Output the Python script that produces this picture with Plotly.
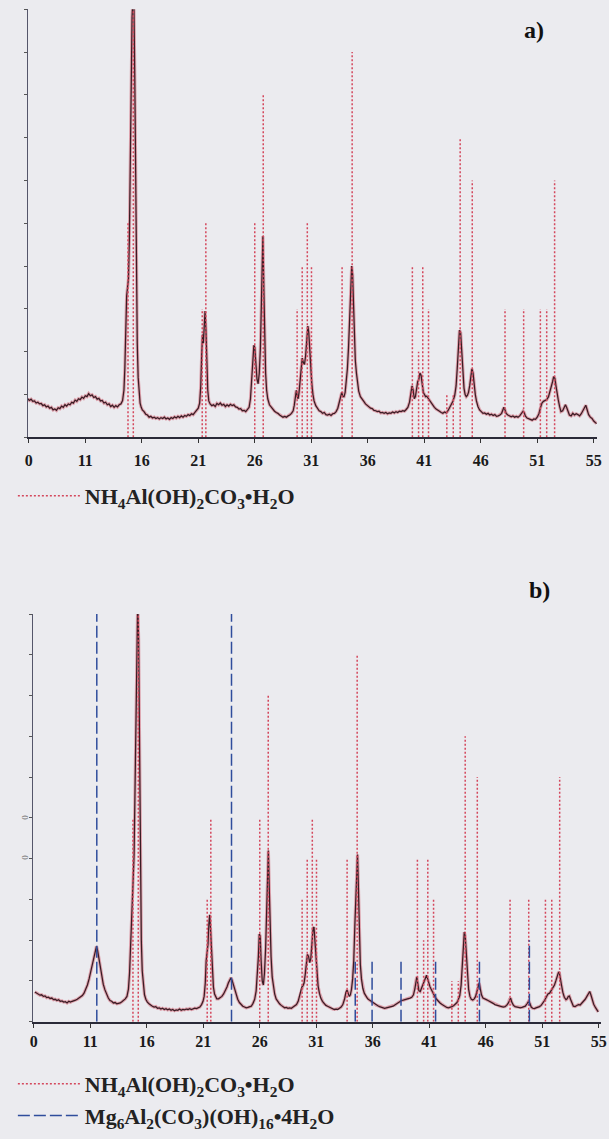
import plotly.graph_objects as go

# ---------------- data ----------------
tick_vals = [6, 11, 16, 21, 26, 31, 36, 41, 46, 51, 56]
tick_text = ["0", "11", "16", "21", "26", "31", "36", "41", "46", "51", "55"]

# reference pattern NH4Al(OH)2CO3.H2O (position, relative height)
nh4_pos = [14.78, 15.25, 21.35, 21.67, 26.0, 26.75, 29.75, 30.2, 30.65, 31.02,
           33.73, 34.62, 39.95, 40.5, 40.87, 41.38, 43.0, 43.57, 44.18, 45.25,
           48.15, 49.8, 51.28, 51.84, 52.54]
nh4_int = [5, 10, 3, 5, 5, 8, 3, 4, 5, 4,
           4, 9, 4, 2, 4, 3, 1, 1, 7, 6,
           3, 3, 3, 3, 6]

# reference pattern Mg6Al2(CO3)(OH)16.4H2O
ht_pos = [11.58, 23.5, 34.45, 35.94, 38.5, 41.56, 45.44, 49.86]
ht_int = [10, 10, 1.5, 1.5, 1.5, 1.5, 1.5, 2]

# measured pattern, sample a
a_x = [5.9, 6.05, 6.2, 6.35, 6.5, 6.65, 6.8, 6.95, 7.1, 7.25, 7.4, 7.55, 7.7, 7.85, 8.0, 8.15, 8.3, 8.45, 8.6, 8.75,
       8.9, 9.05, 9.2, 9.35, 9.5, 9.65, 9.8, 9.95, 10.1, 10.25, 10.4, 10.55, 10.7, 10.85, 11.0, 11.15, 11.3, 11.45, 11.6, 11.75,
       11.9, 12.05, 12.2, 12.35, 12.5, 12.65, 12.8, 12.95, 13.1, 13.25, 13.4, 13.55, 13.7, 13.85, 14.0, 14.15, 14.3, 14.42, 14.5, 14.58,
       14.66, 14.74, 14.82, 14.9, 14.98, 15.06, 15.14, 15.22, 15.3, 15.38, 15.45, 15.52, 15.6, 15.68, 15.76, 15.85, 15.95, 16.05, 16.2, 16.35,
       16.5, 16.65, 16.8, 16.95, 17.1, 17.25, 17.4, 17.55, 17.7, 17.85, 18.0, 18.15, 18.3, 18.45, 18.6, 18.75, 18.9, 19.05, 19.2, 19.35,
       19.5, 19.65, 19.8, 19.95, 20.1, 20.25, 20.4, 20.55, 20.7, 20.85, 21.0, 21.12, 21.22, 21.3, 21.38, 21.45, 21.52, 21.6, 21.68, 21.76,
       21.84, 21.93, 22.05, 22.2, 22.35, 22.5, 22.65, 22.8, 22.95, 23.1, 23.25, 23.4, 23.55, 23.7, 23.85, 24.0, 24.15, 24.3, 24.45, 24.6,
       24.75, 24.9, 25.05, 25.2, 25.35, 25.5, 25.62, 25.72, 25.82, 25.92, 26.0, 26.1, 26.2, 26.3, 26.4, 26.5, 26.58, 26.65, 26.72, 26.8,
       26.88, 26.96, 27.05, 27.15, 27.3, 27.45, 27.6, 27.75, 27.9, 28.05, 28.2, 28.35, 28.5, 28.65, 28.8, 28.95, 29.1, 29.25, 29.4, 29.5,
       29.6, 29.68, 29.76, 29.84, 29.92, 30.0, 30.1, 30.2, 30.3, 30.4, 30.5, 30.6, 30.7, 30.78, 30.86, 30.95, 31.05, 31.15, 31.25, 31.4,
       31.55, 31.7, 31.85, 32.0, 32.15, 32.3, 32.45, 32.6, 32.75, 32.9, 33.05, 33.2, 33.35, 33.5, 33.62, 33.7, 33.8, 33.9, 34.0, 34.1,
       34.2, 34.3, 34.4, 34.5, 34.58, 34.66, 34.74, 34.82, 34.9, 35.0, 35.1, 35.2, 35.35, 35.5, 35.65, 35.8, 35.95, 36.1, 36.25, 36.4,
       36.55, 36.7, 36.85, 37.0, 37.15, 37.3, 37.45, 37.6, 37.75, 37.9, 38.05, 38.2, 38.35, 38.5, 38.65, 38.8, 38.95, 39.1, 39.25, 39.4,
       39.55, 39.7, 39.82, 39.92, 40.02, 40.12, 40.22, 40.32, 40.42, 40.52, 40.62, 40.72, 40.82, 40.92, 41.02, 41.12, 41.22, 41.32, 41.42, 41.52,
       41.62, 41.75, 41.9, 42.05, 42.2, 42.35, 42.5, 42.65, 42.8, 42.95, 43.1, 43.25, 43.4, 43.55, 43.7, 43.82, 43.92, 44.02, 44.12, 44.22,
       44.32, 44.42, 44.52, 44.62, 44.72, 44.82, 44.92, 45.02, 45.12, 45.22, 45.32, 45.42, 45.52, 45.62, 45.75, 45.9, 46.05, 46.2, 46.35, 46.5,
       46.65, 46.8, 46.95, 47.1, 47.25, 47.4, 47.55, 47.7, 47.85, 47.95, 48.05, 48.15, 48.25, 48.4, 48.55, 48.7, 48.85, 49.0, 49.15, 49.3,
       49.45, 49.6, 49.75, 49.85, 49.95, 50.1, 50.25, 50.4, 50.55, 50.7, 50.85, 51.0, 51.15, 51.3, 51.42, 51.55, 51.7, 51.85, 52.0, 52.12,
       52.24, 52.36, 52.46, 52.56, 52.66, 52.76, 52.86, 52.98, 53.1, 53.25, 53.4, 53.5, 53.6, 53.72, 53.85, 54.0, 54.15, 54.3, 54.45, 54.6,
       54.75, 54.9, 55.05, 55.2, 55.3, 55.4, 55.55, 55.7, 55.85, 56.0, 56.15, 56.25]
a_y = [0.90, 0.86, 0.89, 0.84, 0.85, 0.80, 0.82, 0.78, 0.79, 0.74, 0.76, 0.71, 0.73, 0.68, 0.70, 0.64, 0.66, 0.63, 0.69, 0.67,
       0.73, 0.70, 0.76, 0.73, 0.78, 0.76, 0.82, 0.80, 0.87, 0.84, 0.90, 0.88, 0.94, 0.91, 0.97, 0.95, 1.02, 0.97, 0.99, 0.93,
       0.95, 0.89, 0.91, 0.85, 0.86, 0.80, 0.82, 0.76, 0.78, 0.72, 0.75, 0.70, 0.74, 0.71, 0.76, 0.78, 0.86, 1.1, 1.6, 2.6,
       3.3, 3.5, 3.7, 4.6, 6.5, 8.6, 9.8, 10.3, 10.2, 8.4, 5.8, 3.6, 2.2, 1.4, 1.0, 0.8, 0.7, 0.64, 0.6, 0.54,
       0.52, 0.47, 0.49, 0.45, 0.47, 0.44, 0.46, 0.43, 0.46, 0.44, 0.47, 0.43, 0.45, 0.42, 0.46, 0.44, 0.48, 0.45, 0.49, 0.46,
       0.50, 0.47, 0.51, 0.49, 0.53, 0.51, 0.55, 0.53, 0.58, 0.62, 0.68, 0.8, 1.2, 1.9, 2.4, 2.2, 2.6, 2.95, 2.5, 1.6,
       1.1, 0.85, 0.78, 0.74, 0.76, 0.72, 0.79, 0.76, 0.80, 0.75, 0.77, 0.72, 0.76, 0.73, 0.77, 0.74, 0.76, 0.71, 0.70, 0.66,
       0.67, 0.62, 0.63, 0.60, 0.64, 0.70, 0.9, 1.3, 1.8, 2.15, 2.1, 1.7, 1.35, 1.25, 1.5, 2.1, 3.3, 4.5, 4.7, 3.5,
       2.2, 1.5, 1.1, 0.9, 0.76, 0.7, 0.64, 0.61, 0.58, 0.56, 0.52, 0.50, 0.47, 0.49, 0.47, 0.50, 0.52, 0.56, 0.62, 0.75,
       1.0, 1.1, 0.95, 0.9, 1.05, 1.3, 1.6, 1.85, 1.75, 1.7, 1.9, 2.4, 2.6, 2.45, 2.0, 1.6, 1.25, 1.0, 0.85, 0.74,
       0.68, 0.62, 0.60, 0.56, 0.58, 0.53, 0.52, 0.54, 0.51, 0.55, 0.56, 0.60, 0.68, 0.85, 1.0, 1.05, 0.95, 0.95, 1.05, 1.3,
       1.6, 2.1, 2.8, 3.5, 4.0, 3.8, 3.0, 2.3, 1.8, 1.5, 1.25, 1.08, 0.95, 0.88, 0.84, 0.78, 0.74, 0.72, 0.68, 0.67,
       0.63, 0.62, 0.60, 0.61, 0.57, 0.58, 0.56, 0.58, 0.55, 0.57, 0.56, 0.59, 0.57, 0.60, 0.58, 0.61, 0.60, 0.62, 0.61, 0.65,
       0.70, 0.82, 1.05, 1.2, 1.1, 0.9, 0.95, 1.15, 1.3, 1.35, 1.5, 1.45, 1.2, 1.05, 1.0, 0.95, 0.96, 0.92, 0.9, 0.86,
       0.8, 0.74, 0.70, 0.66, 0.64, 0.61, 0.58, 0.56, 0.59, 0.57, 0.62, 0.70, 0.76, 0.85, 0.98, 1.2, 1.6, 2.1, 2.5, 2.45,
       2.0, 1.5, 1.15, 1.0, 0.95, 0.98, 1.05, 1.2, 1.45, 1.6, 1.5, 1.2, 1.0, 0.85, 0.72, 0.64, 0.6, 0.56, 0.57, 0.54,
       0.56, 0.52, 0.54, 0.51, 0.53, 0.49, 0.50, 0.52, 0.56, 0.64, 0.7, 0.64, 0.56, 0.52, 0.50, 0.48, 0.50, 0.47, 0.49, 0.47,
       0.50, 0.55, 0.61, 0.58, 0.50, 0.45, 0.43, 0.41, 0.40, 0.43, 0.42, 0.47, 0.55, 0.70, 0.8, 0.84, 0.86, 0.88, 0.95, 1.05,
       1.15, 1.3, 1.42, 1.38, 1.2, 1.0, 0.88, 0.72, 0.6, 0.62, 0.72, 0.76, 0.7, 0.6, 0.52, 0.50, 0.56, 0.52, 0.55, 0.53,
       0.50, 0.55, 0.62, 0.72, 0.75, 0.66, 0.53, 0.47, 0.44, 0.38, 0.34, 0.32]

# measured pattern, sample b
b_x = [6.1, 6.25, 6.4, 6.55, 6.7, 6.85, 7.0, 7.15, 7.3, 7.45, 7.6, 7.75, 7.9, 8.05, 8.2, 8.35, 8.5, 8.65, 8.8, 8.95,
       9.1, 9.25, 9.4, 9.55, 9.7, 9.85, 10.0, 10.15, 10.3, 10.45, 10.6, 10.75, 10.9, 11.05, 11.2, 11.35, 11.47, 11.55, 11.65, 11.78,
       11.9, 12.02, 12.15, 12.3, 12.45, 12.6, 12.75, 12.9, 13.05, 13.2, 13.35, 13.5, 13.65, 13.8, 13.95, 14.1, 14.25, 14.38, 14.48, 14.56,
       14.64, 14.72, 14.8, 14.88, 14.96, 15.04, 15.12, 15.2, 15.28, 15.36, 15.44, 15.52, 15.6, 15.7, 15.8, 15.92, 16.05, 16.2, 16.35, 16.5,
       16.65, 16.8, 16.95, 17.1, 17.25, 17.4, 17.55, 17.7, 17.85, 18.0, 18.15, 18.3, 18.45, 18.6, 18.75, 18.9, 19.05, 19.2, 19.35, 19.5,
       19.65, 19.8, 19.95, 20.1, 20.25, 20.4, 20.55, 20.7, 20.85, 20.98, 21.08, 21.18, 21.26, 21.34, 21.42, 21.5, 21.57, 21.64, 21.72, 21.8,
       21.9, 22.0, 22.1, 22.2, 22.35, 22.5, 22.65, 22.8, 22.95, 23.1, 23.22, 23.35, 23.45, 23.55, 23.65, 23.78, 23.9, 24.05, 24.2, 24.35,
       24.5, 24.65, 24.8, 24.95, 25.1, 25.25, 25.4, 25.55, 25.68, 25.78, 25.88, 25.96, 26.04, 26.12, 26.22, 26.32, 26.42, 26.52, 26.6, 26.68,
       26.76, 26.84, 26.92, 27.0, 27.1, 27.2, 27.32, 27.45, 27.6, 27.75, 27.9, 28.05, 28.2, 28.35, 28.5, 28.65, 28.8, 28.95, 29.1, 29.25,
       29.4, 29.52, 29.62, 29.72, 29.82, 29.92, 30.02, 30.12, 30.22, 30.32, 30.42, 30.52, 30.62, 30.72, 30.8, 30.88, 30.96, 31.06, 31.16, 31.28,
       31.4, 31.55, 31.7, 31.85, 32.0, 32.15, 32.3, 32.45, 32.6, 32.75, 32.9, 33.05, 33.2, 33.35, 33.5, 33.62, 33.72, 33.82, 33.92, 34.02,
       34.12, 34.22, 34.32, 34.42, 34.5, 34.58, 34.65, 34.72, 34.8, 34.9, 35.0, 35.12, 35.25, 35.4, 35.55, 35.7, 35.85, 36.0, 36.15, 36.3,
       36.45, 36.6, 36.75, 36.9, 37.05, 37.2, 37.35, 37.5, 37.65, 37.8, 37.95, 38.1, 38.25, 38.4, 38.55, 38.7, 38.85, 39.0, 39.15, 39.3,
       39.45, 39.6, 39.72, 39.82, 39.9, 39.98, 40.08, 40.2, 40.32, 40.44, 40.56, 40.66, 40.76, 40.86, 40.96, 41.06, 41.16, 41.28, 41.4, 41.52,
       41.65, 41.8, 41.95, 42.1, 42.25, 42.4, 42.55, 42.7, 42.85, 43.0, 43.15, 43.3, 43.45, 43.58, 43.7, 43.82, 43.92, 44.02, 44.1, 44.18,
       44.28, 44.38, 44.48, 44.6, 44.72, 44.85, 44.98, 45.1, 45.22, 45.32, 45.42, 45.52, 45.62, 45.75, 45.9, 46.05, 46.2, 46.35, 46.5, 46.65,
       46.8, 46.95, 47.1, 47.25, 47.4, 47.55, 47.7, 47.85, 48.0, 48.1, 48.2, 48.3, 48.45, 48.6, 48.75, 48.9, 49.05, 49.2, 49.35, 49.5,
       49.65, 49.78, 49.9, 50.02, 50.15, 50.3, 50.45, 50.6, 50.75, 50.9, 51.05, 51.2, 51.35, 51.5, 51.65, 51.8, 51.95, 52.08, 52.2, 52.32,
       52.42, 52.5, 52.6, 52.7, 52.82, 52.95, 53.1, 53.2, 53.3, 53.4, 53.5, 53.62, 53.75, 53.9, 54.05, 54.2, 54.35, 54.5, 54.65, 54.8,
       54.95, 55.1, 55.2, 55.3, 55.42, 55.55, 55.7, 55.85, 55.95]
b_y = [0.73, 0.70, 0.68, 0.65, 0.66, 0.62, 0.63, 0.59, 0.60, 0.57, 0.58, 0.54, 0.55, 0.52, 0.54, 0.50, 0.51, 0.48, 0.49, 0.46,
       0.50, 0.48, 0.50, 0.51, 0.53, 0.55, 0.58, 0.60, 0.64, 0.70, 0.78, 0.9, 1.05, 1.25, 1.45, 1.65, 1.82, 1.85, 1.75, 1.55,
       1.3, 1.1, 0.92, 0.78, 0.66, 0.58, 0.52, 0.50, 0.46, 0.47, 0.44, 0.45, 0.46, 0.49, 0.52, 0.56, 0.62, 0.8, 1.2, 1.9,
       2.6, 3.2, 3.5, 4.1, 5.6, 7.8, 9.6, 10.3, 9.4, 6.4, 3.6, 2.0, 1.25, 0.86, 0.66, 0.55, 0.48, 0.44, 0.40, 0.38,
       0.36, 0.37, 0.33, 0.34, 0.31, 0.33, 0.30, 0.32, 0.29, 0.31, 0.28, 0.30, 0.27, 0.29, 0.28, 0.31, 0.28, 0.30, 0.29, 0.31,
       0.30, 0.32, 0.30, 0.31, 0.33, 0.32, 0.35, 0.36, 0.42, 0.5, 0.62, 0.95, 1.5, 1.75, 1.9, 2.4, 2.62, 2.3, 1.8, 1.2,
       0.85, 0.68, 0.6, 0.56, 0.56, 0.59, 0.62, 0.68, 0.76, 0.85, 0.95, 1.05, 1.08, 1.02, 0.92, 0.78, 0.66, 0.55, 0.47, 0.42,
       0.38, 0.36, 0.34, 0.35, 0.36, 0.38, 0.45, 0.55, 0.75, 1.1, 1.6, 2.15, 2.1, 1.5, 1.0, 0.9, 1.2, 1.8, 2.8, 3.8,
       4.2, 3.3, 2.3, 1.6, 1.1, 0.86, 0.68, 0.56, 0.49, 0.44, 0.40, 0.37, 0.34, 0.35, 0.33, 0.34, 0.33, 0.36, 0.38, 0.42,
       0.5, 0.62, 0.72, 0.85, 0.88, 0.95, 1.15, 1.4, 1.65, 1.6, 1.45, 1.55, 1.95, 2.3, 2.32, 2.0, 1.6, 1.15, 0.88, 0.7,
       0.58, 0.5, 0.44, 0.40, 0.38, 0.36, 0.33, 0.31, 0.30, 0.31, 0.30, 0.33, 0.36, 0.42, 0.55, 0.72, 0.78, 0.7, 0.62, 0.66,
       0.8, 1.05, 1.5, 2.4, 3.2, 4.0, 4.1, 3.4, 2.2, 1.4, 1.05, 0.82, 0.7, 0.62, 0.56, 0.53, 0.50, 0.46, 0.44, 0.41,
       0.39, 0.37, 0.36, 0.34, 0.33, 0.34, 0.35, 0.36, 0.37, 0.38, 0.41, 0.44, 0.47, 0.50, 0.52, 0.53, 0.54, 0.55, 0.56, 0.58,
       0.60, 0.66, 0.8, 1.0, 1.1, 0.95, 0.76, 0.74, 0.82, 0.9, 0.98, 1.08, 1.14, 1.05, 0.92, 0.86, 0.8, 0.72, 0.66, 0.6,
       0.55, 0.5, 0.46, 0.43, 0.40, 0.37, 0.35, 0.34, 0.35, 0.37, 0.39, 0.42, 0.47, 0.55, 0.64, 0.9, 1.35, 1.9, 2.2, 2.1,
       1.55, 1.1, 0.8, 0.62, 0.55, 0.53, 0.56, 0.62, 0.75, 0.88, 0.95, 0.8, 0.66, 0.58, 0.55, 0.54, 0.52, 0.50, 0.47, 0.45,
       0.42, 0.41, 0.40, 0.38, 0.37, 0.36, 0.37, 0.40, 0.46, 0.55, 0.58, 0.48, 0.40, 0.37, 0.36, 0.35, 0.34, 0.35, 0.36, 0.38,
       0.44, 0.5, 0.45, 0.36, 0.33, 0.32, 0.34, 0.35, 0.37, 0.40, 0.45, 0.52, 0.6, 0.68, 0.7, 0.76, 0.82, 0.9, 1.0, 1.12,
       1.2, 1.22, 1.1, 0.9, 0.72, 0.6, 0.54, 0.56, 0.62, 0.63, 0.55, 0.44, 0.38, 0.37, 0.40, 0.42, 0.41, 0.45, 0.49, 0.55,
       0.62, 0.7, 0.74, 0.66, 0.52, 0.43, 0.35, 0.28, 0.24]

NH4_NAME = "<b>NH<sub>4</sub>Al(OH)<sub>2</sub>CO<sub>3</sub>•H<sub>2</sub>O</b>"
HT_NAME = "<b>Mg<sub>6</sub>Al<sub>2</sub>(CO<sub>3</sub>)(OH)<sub>16</sub>•4H<sub>2</sub>O</b>"


def sticks(pos, inten):
    xs, ys = [], []
    for p, h in zip(pos, inten):
        xs += [p, p, None]
        ys += [0, h, None]
    return xs, ys


BG = "#EBEBEF"
RED = "#D4475C"
BLUE = "#2F4D9C"
DARK = "#3A1C24"
SERIF = "Liberation Serif"

fig = go.Figure()

for xa, ya, xs, ys, leg in [("x", "y", a_x, a_y, "legend"), ("x2", "y2", b_x, b_y, "legend2")]:
    fig.add_trace(go.Scatter(x=xs, y=ys, xaxis=xa, yaxis=ya, mode="lines",
                             line=dict(color="rgba(205,70,90,0.45)", width=3.2),
                             showlegend=False, hoverinfo="skip"))
    fig.add_trace(go.Scatter(x=xs, y=ys, xaxis=xa, yaxis=ya, mode="lines",
                             line=dict(color=DARK, width=1.25), showlegend=False))
    sx, sy = sticks(nh4_pos, nh4_int)
    fig.add_trace(go.Scatter(x=sx, y=sy, xaxis=xa, yaxis=ya, mode="lines",
                             line=dict(color=RED, width=1.5, dash="2px,2px"),
                             name=NH4_NAME, legend=leg, showlegend=True))

hx, hy = sticks(ht_pos, ht_int)
fig.add_trace(go.Scatter(x=hx, y=hy, xaxis="x2", yaxis="y2", mode="lines",
                         line=dict(color=BLUE, width=1.5, dash="12px,4px"),
                         name=HT_NAME, legend="legend2", showlegend=True))

W, H = 609, 1139
bold_text = ["<b>%s</b>" % t for t in tick_text]
xcommon = dict(tickmode="array", tickvals=tick_vals, ticktext=bold_text,
               ticks="outside", ticklen=4, tickwidth=1.2, tickcolor="#333",
               showline=True, linecolor="#2a2a38", linewidth=1.6,
               showgrid=False, zeroline=False,
               tickfont=dict(family=SERIF, size=16, color="#1a1a1a"))
ycommon = dict(range=[0, 10], tickmode="array", tickvals=list(range(0, 11)),
               showticklabels=False, ticks="outside", ticklen=3, tickwidth=1,
               tickcolor="#555", showline=True, linecolor="#55566a", linewidth=1.2,
               showgrid=False, zeroline=False)

legfont = dict(family=SERIF, size=22, color="#222")
fig.update_layout(
    width=W, height=H,
    margin=dict(l=0, r=0, t=0, b=0),
    paper_bgcolor=BG, plot_bgcolor=BG,
    xaxis=dict(domain=[25 / W, 602 / W], range=[5.9, 56.3], anchor="y",
               ticklabelstandoff=4, **xcommon),
    yaxis=dict(domain=[1 - 437.3 / H, 1 - 9.3 / H], anchor="x", **ycommon),
    xaxis2=dict(domain=[30 / W, 606 / W], range=[5.9, 56.2], anchor="y2", **xcommon),
    yaxis2=dict(domain=[1 - 1021.7 / H, 1 - 614 / H], anchor="x2", **ycommon),
    legend=dict(x=10 / W, y=1 - 496 / H, xanchor="left", yanchor="middle", itemwidth=62,
                bgcolor="rgba(0,0,0,0)", font=legfont),
    legend2=dict(x=10 / W, y=1 - 1100 / H, xanchor="left", yanchor="middle", itemwidth=62,
                 bgcolor="rgba(0,0,0,0)", font=legfont),
    annotations=[
        dict(text="<b>a)</b>", x=538 / W, y=1 - 30 / H, xref="paper", yref="paper",
             xanchor="center", yanchor="middle",
             showarrow=False, font=dict(family=SERIF, size=24, color="#111")),
        dict(text="<b>b)</b>", x=544 / W, y=1 - 590 / H, xref="paper", yref="paper",
             xanchor="center", yanchor="middle",
             showarrow=False, font=dict(family=SERIF, size=24, color="#111")),
        dict(text="0", x=22 / W, y=1 - 817 / H, xref="paper", yref="paper", textangle=-90,
             xanchor="center", yanchor="middle",
             showarrow=False, font=dict(family=SERIF, size=9, color="#777")),
        dict(text="0", x=22 / W, y=1 - 857 / H, xref="paper", yref="paper", textangle=-90,
             xanchor="center", yanchor="middle",
             showarrow=False, font=dict(family=SERIF, size=9, color="#777")),
    ],
)

fig.write_html("out.html", config={"displayModeBar": False},
               post_script="document.body.style.margin='0';document.body.style.overflow='hidden';")
